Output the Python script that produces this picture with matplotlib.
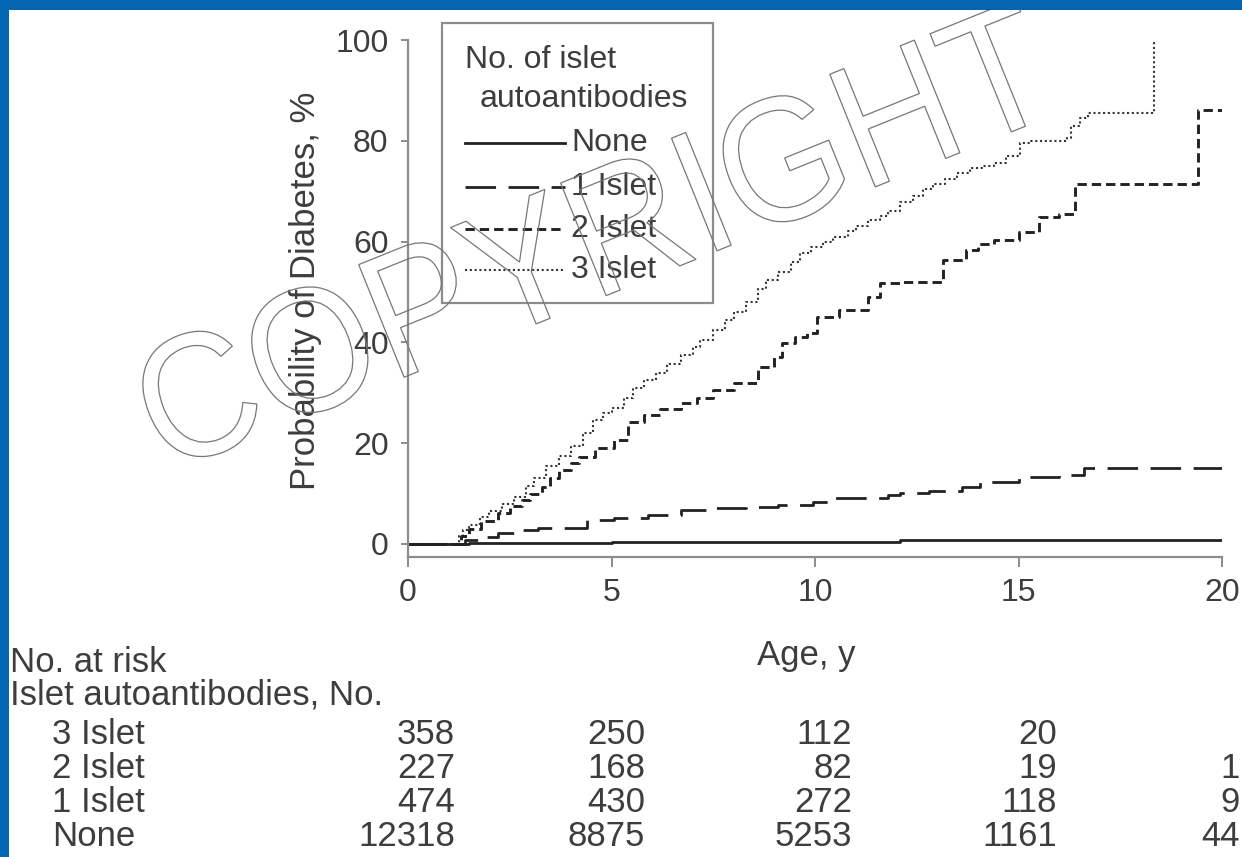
import matplotlib
matplotlib.use("Agg")
import matplotlib.pyplot as plt
from matplotlib.lines import Line2D
from matplotlib.patches import Rectangle, PathPatch
from matplotlib.textpath import TextPath
from matplotlib.font_manager import FontProperties
from matplotlib.transforms import Affine2D

# ---------------------------------------------------------------- data
groups = ["None", "1 Islet", "2 Islet", "3 Islet"]

age_none = [0, 1.5, 3.0, 5.0, 7.8, 12.1, 20.0]
prob_none = [0, 0.1, 0.2, 0.3, 0.4, 0.7, 0.7]

age_1 = [0, 1.4, 1.77, 2.2, 2.6, 3.2, 4.4, 5.05, 5.9, 6.7, 7.5, 8.3, 9.1,
         9.95, 10.4, 11.8, 12.1, 12.8, 13.6, 14.05, 15.0, 16.0, 16.6, 20.0]
prob_1 = [0, 0.7, 1.4, 2.2, 2.8, 3.2, 4.8, 5.2, 5.8, 6.7, 7.1, 7.4, 7.7,
          8.4, 9.1, 9.7, 10.1, 10.5, 11.3, 12.3, 13.3, 13.7, 15.1, 15.1]

age_2 = [0, 1.3, 1.5, 1.8, 2.2, 2.5, 2.8, 3.0, 3.3, 3.5, 3.7, 4.0, 4.2, 4.6,
         5.05, 5.4, 5.8, 6.2, 6.7, 7.1, 7.5, 8.0, 8.6, 9.0, 9.2, 9.5, 9.8,
         10.05, 10.6, 11.3, 11.6, 12.1, 13.15, 13.7, 14.0, 14.4, 15.0, 15.5,
         16.0, 16.4, 19.4, 20.0]
prob_2 = [0, 1.5, 3.0, 4.5, 6.1, 7.5, 8.7, 10.0, 11.3, 13.0, 14.7, 16.0, 17.3,
          19.0, 20.6, 24.2, 25.5, 26.8, 27.9, 29.0, 30.6, 32.0, 35.2, 37.0,
          39.9, 41.0, 41.8, 45.0, 46.5, 49.0, 51.8, 52.0, 56.3, 58.3, 59.5,
          60.3, 61.9, 64.9, 65.5, 71.4, 86.1, 86.1]

age_3 = [0, 1.25, 1.35, 1.5, 1.77, 2.0, 2.3, 2.6, 2.9, 3.1, 3.4, 3.7, 4.0,
         4.3, 4.55, 4.8, 5.0, 5.3, 5.53, 5.8, 6.1, 6.36, 6.7, 7.0, 7.17, 7.5,
         7.8, 8.0, 8.3, 8.6, 8.8, 9.1, 9.4, 9.63, 9.9, 10.2, 10.45, 10.8,
         11.0, 11.3, 11.6, 11.8, 12.1, 12.4, 12.65, 12.9, 13.2, 13.5, 13.8,
         14.1, 14.4, 14.7, 15.04, 15.3, 16.2, 16.3, 16.5, 16.7, 18.33]
prob_3 = [0, 1.5, 2.8, 3.8, 5.4, 6.5, 8.0, 9.3, 11.5, 13.0, 15.5, 17.5, 19.5,
          22.0, 24.5, 26.0, 27.0, 29.0, 31.0, 32.5, 34.0, 35.8, 37.5, 39.0,
          40.5, 42.5, 44.5, 46.0, 48.0, 50.5, 52.4, 54.0, 56.0, 57.7, 59.0,
          60.0, 61.0, 62.0, 63.0, 64.3, 65.0, 66.0, 67.9, 69.0, 70.5, 71.5,
          72.5, 73.6, 74.5, 75.0, 75.6, 77.0, 79.5, 80.0, 80.5, 83.0, 84.5,
          85.5, 100.0]

x_ticks = [0, 5, 10, 15, 20]
y_ticks = [0, 20, 40, 60, 80, 100]

risk_rows = ["3 Islet", "2 Islet", "1 Islet", "None"]
risk_3 = ["358", "250", "112", "20", ""]
risk_2 = ["227", "168", "82", "19", "1"]
risk_1 = ["474", "430", "272", "118", "9"]
risk_0 = ["12318", "8875", "5253", "1161", "44"]

# ---------------------------------------------------------------- styling
W, H, DPI = 1242, 857, 100
INK = "#222222"
TXT = "#3d3d3d"
AXC = "#8c8c8c"
FONT = "Liberation Sans"
TABLE_FS = 25

plt.rcParams["font.family"] = [FONT, "DejaVu Sans"]

styles = {
    "None": dict(color=INK, lw=2.0, linestyle="-"),
    "1 Islet": dict(color=INK, lw=2.0, linestyle=(0, (11, 4.5))),
    "2 Islet": dict(color=INK, lw=2.1, linestyle=(0, (3.2, 1.7))),
    "3 Islet": dict(color="#333333", lw=1.5, linestyle=(0, (1.0, 1.3))),
}
series = {
    "None": (age_none, prob_none),
    "1 Islet": (age_1, prob_1),
    "2 Islet": (age_2, prob_2),
    "3 Islet": (age_3, prob_3),
}


def fx(px):
    return px / W


def fy(py):
    return 1 - py / H


fig = plt.figure(figsize=(W / DPI, H / DPI), dpi=DPI, facecolor="white")

# blue frame along the top and left edges
fig.add_artist(Rectangle((0, fy(10)), 1, 10 / H, transform=fig.transFigure,
                         facecolor="#0366b3", edgecolor="none", zorder=20))
fig.add_artist(Rectangle((0, 0), 9 / W, 1, transform=fig.transFigure,
                         facecolor="#0366b3", edgecolor="none", zorder=20))

ax = fig.add_axes([fx(408), fy(557), (1222 - 408) / W, (557 - 40) / H])
for g in groups[::-1]:
    a, p = series[g]
    ax.plot(a, p, drawstyle="steps-post", solid_capstyle="butt",
            dash_capstyle="butt", **styles[g])

ax.set_xlim(0, 20)
ax.set_ylim(-2.6, 100)
ax.set_xticks(x_ticks)
ax.set_yticks(y_ticks)
ax.set_xticklabels([str(v) for v in x_ticks])
ax.set_yticklabels([str(v) for v in y_ticks])
for s in ("top", "right"):
    ax.spines[s].set_visible(False)
for s in ("left", "bottom"):
    ax.spines[s].set_color(AXC)
    ax.spines[s].set_linewidth(1.6)
ax.tick_params(axis="both", colors=AXC, width=1.4, labelcolor=TXT,
               labelsize=23)
ax.tick_params(axis="y", length=5, pad=9)
ax.tick_params(axis="x", length=7, pad=8)

ax.set_xlabel("Age, y", fontsize=25, color=TXT)
ax.xaxis.set_label_coords((806 - 408) / 814, (557 - 656) / 517)
ax.xaxis.label.set_va("center")
ax.set_ylabel("Probability of Diabetes, %", fontsize=25, color=TXT)
ax.yaxis.set_label_coords((305 - 408) / 814, (557 - 291) / 517)
ax.yaxis.label.set_va("center")

# legend
fig.add_artist(Rectangle((fx(442), fy(303)), (713 - 442) / W, (303 - 23) / H,
                         transform=fig.transFigure, fill=False,
                         edgecolor=AXC, lw=1.6))
fig.text(fx(465), fy(60), "No. of islet", fontsize=23, color=TXT,
         ha="left", va="center")
fig.text(fx(480), fy(99), "autoantibodies", fontsize=23, color=TXT,
         ha="left", va="center")
legend_y = [143, 187, 229, 270]
for g, yy in zip(groups, legend_y):
    fig.add_artist(Line2D([fx(465), fx(565)], [fy(yy), fy(yy)],
                          transform=fig.transFigure, **styles[g]))
    fig.text(fx(571), fy(yy), g, fontsize=23, color=TXT,
             ha="left", va="center")

# numbers at risk
fig.text(fx(10), fy(662), "No. at risk", fontsize=TABLE_FS, color=TXT,
         ha="left", va="center")
fig.text(fx(10), fy(695), "Islet autoantibodies, No.", fontsize=TABLE_FS,
         color=TXT, ha="left", va="center")
row_y = [735, 769, 803, 837]
col_right = [455, 645, 852, 1057, 1240]
for name, vals, yy in zip(risk_rows, [risk_3, risk_2, risk_1, risk_0], row_y):
    fig.text(fx(52), fy(yy), name, fontsize=TABLE_FS, color=TXT,
             ha="left", va="center")
    for v, xr in zip(vals, col_right):
        fig.text(fx(xr), fy(yy), v, fontsize=TABLE_FS, color=TXT,
                 ha="right", va="center")

# outlined watermark
tp = TextPath((0, 0), "COPYRIGHT", size=100, prop=FontProperties(family=FONT))
bb = tp.get_extents()
sy = 125 / bb.height
sx = 0.925 * sy
wm = (Affine2D().translate(-(bb.x0 + bb.x1) / 2, -(bb.y0 + bb.y1) / 2)
      .scale(sx, sy).rotate_deg(22).translate(594, H - 235))
fig.add_artist(PathPatch(tp, transform=wm, facecolor="none",
                         edgecolor="#777777", lw=0.9, zorder=15))

fig.savefig("out.png", dpi=DPI, facecolor="white")
